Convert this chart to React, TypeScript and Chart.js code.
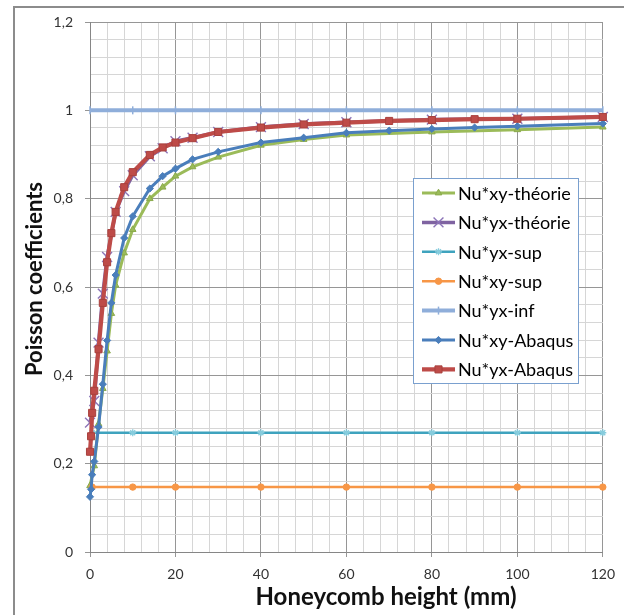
import React, { useEffect, useRef } from 'react';
import { Chart, registerables } from 'chart.js';

Chart.register(...registerables);

// ---- data ----
const xyTheoX = [0, 1, 2, 3, 4, 5, 6, 8, 10, 14, 17, 20, 24, 30, 40, 50, 60, 80, 100, 120];
const xyTheoY = [0.15, 0.195, 0.29, 0.37, 0.455, 0.54, 0.604, 0.677, 0.73, 0.8, 0.826, 0.851, 0.872, 0.894, 0.921, 0.934, 0.944, 0.951, 0.956, 0.962];

const yxTheoX = [0, 1, 2, 3, 4, 6, 8, 10, 14, 17, 20, 24, 30, 40, 50, 60, 80, 100, 120];
const yxTheoY = [0.293, 0.342, 0.474, 0.585, 0.668, 0.77, 0.817, 0.853, 0.896, 0.914, 0.93, 0.938, 0.951, 0.962, 0.969, 0.973, 0.979, 0.981, 0.985];

const supX = [0.5, 10, 20, 40, 60, 80, 100, 120];
const yxSupY = [0.27, 0.27, 0.27, 0.27, 0.27, 0.27, 0.27, 0.27];
const xySupY = [0.147, 0.147, 0.147, 0.147, 0.147, 0.147, 0.147, 0.147];

const infX = [0, 10, 20, 40, 60, 80, 100, 120];
const yxInfY = [1, 1, 1, 1, 1, 1, 1, 1];

const abaqusX = [0, 0.25, 0.5, 1, 2, 3, 4, 5, 6, 8, 10, 14, 17, 20, 24, 30, 40, 50, 60, 70, 80, 90, 100, 120];
const xyAbaqusY = [0.125, 0.142, 0.175, 0.205, 0.283, 0.38, 0.479, 0.564, 0.627, 0.711, 0.76, 0.823, 0.851, 0.868, 0.889, 0.906, 0.927, 0.938, 0.949, 0.954, 0.958, 0.961, 0.964, 0.97];
const yxAbaqusY = [0.227, 0.262, 0.315, 0.365, 0.459, 0.564, 0.656, 0.722, 0.77, 0.826, 0.86, 0.899, 0.916, 0.927, 0.937, 0.951, 0.961, 0.968, 0.972, 0.976, 0.978, 0.98, 0.981, 0.985];

const seriesLabels = [
  'Nu*xy-théorie',
  'Nu*yx-théorie',
  'Nu*yx-sup',
  'Nu*xy-sup',
  'Nu*yx-inf',
  'Nu*xy-Abaqus',
  'Nu*yx-Abaqus',
];

const xTitle = 'Honeycomb height (mm)';
const yTitle = 'Poisson coefficients';

const pts = (xs: number[], ys: number[]) => xs.map((x, i) => ({ x, y: ys[i] }));

const FONT = 'Lato, "Open Sans", sans-serif';

type Sty = {
  color: string;
  width: number;
  marker: string;
  r: number;
  mFill: string;
  mStroke: string;
  mWidth: number;
  rot?: number;
};

const styles: Sty[] = [
  { color: '#9BBB59', width: 3, marker: 'triangle', r: 3.8, mFill: '#9BBB59', mStroke: '#8AAA4C', mWidth: 1 },
  { color: '#7F63A1', width: 3.5, marker: 'crossRot', r: 7, mFill: '#8C74B8', mStroke: '#8C74B8', mWidth: 1.4 },
  { color: '#3FA3BE', width: 2.5, marker: 'star', r: 3.5, mFill: '#86CCDD', mStroke: '#86CCDD', mWidth: 1.3 },
  { color: '#F79646', width: 2.5, marker: 'circle', r: 3.2, mFill: '#F79646', mStroke: '#F79646', mWidth: 1 },
  { color: '#8FAEDA', width: 4, marker: 'line', r: 4, mFill: '#8FAEDA', mStroke: '#8FAEDA', mWidth: 1.5, rot: 90 },
  { color: '#4A7EBB', width: 3, marker: 'rectRot', r: 3.6, mFill: '#4A7EBB', mStroke: '#4A7EBB', mWidth: 1 },
  { color: '#BE4B48', width: 4.2, marker: 'rect', r: 5, mFill: '#BE4B48', mStroke: '#A8403D', mWidth: 1 },
];

function drawMarker(ctx: CanvasRenderingContext2D, s: Sty, x: number, y: number) {
  const r = s.r;
  ctx.save();
  ctx.fillStyle = s.mFill;
  ctx.strokeStyle = s.mStroke;
  ctx.lineWidth = s.mWidth;
  ctx.beginPath();
  switch (s.marker) {
    case 'triangle':
      ctx.moveTo(x, y - r);
      ctx.lineTo(x + r * 0.866, y + r * 0.5);
      ctx.lineTo(x - r * 0.866, y + r * 0.5);
      ctx.closePath();
      ctx.fill();
      ctx.stroke();
      break;
    case 'crossRot': {
      const d = r * Math.SQRT1_2;
      ctx.moveTo(x - d, y - d);
      ctx.lineTo(x + d, y + d);
      ctx.moveTo(x + d, y - d);
      ctx.lineTo(x - d, y + d);
      ctx.stroke();
      break;
    }
    case 'star': {
      const d = r * Math.SQRT1_2;
      ctx.moveTo(x - d, y - d);
      ctx.lineTo(x + d, y + d);
      ctx.moveTo(x + d, y - d);
      ctx.lineTo(x - d, y + d);
      ctx.moveTo(x, y - r);
      ctx.lineTo(x, y + r);
      ctx.moveTo(x - r, y);
      ctx.lineTo(x + r, y);
      ctx.stroke();
      break;
    }
    case 'circle':
      ctx.arc(x, y, r, 0, Math.PI * 2);
      ctx.fill();
      ctx.stroke();
      break;
    case 'line':
      ctx.moveTo(x, y - r);
      ctx.lineTo(x, y + r);
      ctx.stroke();
      break;
    case 'rectRot':
      ctx.moveTo(x, y - r);
      ctx.lineTo(x + r, y);
      ctx.lineTo(x, y + r);
      ctx.lineTo(x - r, y);
      ctx.closePath();
      ctx.fill();
      ctx.stroke();
      break;
    case 'rect': {
      const d = r * Math.SQRT1_2;
      ctx.rect(x - d, y - d, 2 * d, 2 * d);
      ctx.fill();
      ctx.stroke();
      break;
    }
  }
  ctx.restore();
}

const decor = {
  id: 'decor',
  beforeDraw(chart: any) {
    const ctx = chart.ctx as CanvasRenderingContext2D;
    ctx.save();
    ctx.fillStyle = '#ffffff';
    ctx.fillRect(0, 0, chart.width, chart.height);
    ctx.restore();
  },
  afterDraw(chart: any) {
    const ctx = chart.ctx as CanvasRenderingContext2D;
    const area = chart.chartArea;
    ctx.save();
    // outer border
    ctx.strokeStyle = '#8C8C8C';
    ctx.lineWidth = 2;
    ctx.strokeRect(14, 7, 700, 700);

    // axis titles
    ctx.fillStyle = '#111111';
    ctx.textAlign = 'center';
    ctx.textBaseline = 'alphabetic';
    ctx.font = `bold 24px ${FONT}`;
    ctx.fillText(xTitle, 386, 605);
    ctx.save();
    ctx.font = `bold 22px ${FONT}`;
    ctx.translate(42, (area.top + area.bottom) / 2 - 8);
    ctx.rotate(-Math.PI / 2);
    ctx.fillText(yTitle, 0, 0);
    ctx.restore();

    // legend
    const lx = 413.5, ly = 178.5, lw = 165, lh = 205;
    ctx.fillStyle = '#ffffff';
    ctx.fillRect(lx, ly, lw, lh);
    ctx.strokeStyle = '#7AA0CF';
    ctx.lineWidth = 1;
    ctx.strokeRect(lx, ly, lw, lh);
    ctx.font = `18px ${FONT}`;
    ctx.textAlign = 'left';
    ctx.textBaseline = 'middle';
    seriesLabels.forEach((lab, i) => {
      const s = styles[i];
      const cy = 193 + i * 29.4;
      ctx.strokeStyle = s.color;
      ctx.lineWidth = s.width;
      ctx.beginPath();
      ctx.moveTo(422, cy);
      ctx.lineTo(455, cy);
      ctx.stroke();
      drawMarker(ctx, s, 438.5, cy);
      ctx.fillStyle = '#000000';
      ctx.fillText(lab, 458, cy + 1);
    });
    ctx.restore();
  },
};

const isMajor = (v: number, step: number) => Math.abs(v / step - Math.round(v / step)) < 1e-6;

export default function App() {
  const ref = useRef<HTMLCanvasElement | null>(null);
  useEffect(() => {
    const canvas = ref.current;
    if (!canvas) return;
    const series = [
      pts(xyTheoX, xyTheoY),
      pts(yxTheoX, yxTheoY),
      pts(supX, yxSupY),
      pts(supX, xySupY),
      pts(infX, yxInfY),
      pts(abaqusX, xyAbaqusY),
      pts(abaqusX, yxAbaqusY),
    ];
    const datasets = series.map((data, i) => {
      const s = styles[i];
      return {
        label: seriesLabels[i],
        data,
        borderColor: s.color,
        backgroundColor: s.color,
        borderWidth: s.width,
        pointStyle: s.marker,
        pointRadius: s.r,
        pointHoverRadius: s.r,
        pointBackgroundColor: s.mFill,
        pointBorderColor: s.mStroke,
        pointBorderWidth: s.mWidth,
        pointRotation: s.rot || 0,
        tension: 0,
        clip: false as any,
        order: 6 - i,
      };
    });
    const chart = new Chart(canvas, {
      type: 'line',
      data: { datasets: datasets as any },
      plugins: [decor],
      options: {
        responsive: false,
        animation: false,
        events: [],
        layout: { padding: { left: 0, right: 18, top: 22, bottom: 0 } },
        plugins: {
          legend: { display: false },
          tooltip: { enabled: false },
          title: { display: false },
        },
        scales: {
          x: {
            type: 'linear',
            min: 0,
            max: 120,
            afterFit: (s: any) => {
              s.height = 63;
            },
            ticks: {
              stepSize: 4,
              autoSkip: false,
              maxRotation: 0,
              minRotation: 0,
              padding: 9,
              color: '#333333',
              font: { family: FONT, size: 14 },
              callback: (v: any) => (isMajor(Number(v), 20) ? String(Math.round(Number(v))) : ''),
            },
            grid: {
              color: (c: any) => (isMajor(c.tick.value, 20) ? '#969696' : '#D6D6D6'),
              tickColor: (c: any) => (isMajor(c.tick.value, 20) ? '#969696' : 'rgba(0,0,0,0)'),
              tickLength: 5,
              lineWidth: 1,
            },
            border: { color: '#868686', width: 1 },
          },
          y: {
            type: 'linear',
            min: 0,
            max: 1.2,
            afterFit: (s: any) => {
              s.width = 90;
            },
            ticks: {
              stepSize: 0.04,
              autoSkip: false,
              padding: 12,
              color: '#333333',
              font: { family: FONT, size: 14 },
              callback: (v: any) => {
                const n = Number(v);
                if (!isMajor(n, 0.2)) return '';
                return String(Math.round(n * 10) / 10).replace('.', ',');
              },
            },
            grid: {
              color: (c: any) => (isMajor(c.tick.value, 0.2) ? '#969696' : '#D6D6D6'),
              tickColor: (c: any) => (isMajor(c.tick.value, 0.2) ? '#969696' : 'rgba(0,0,0,0)'),
              tickLength: 5,
              lineWidth: 1,
            },
            border: { color: '#868686', width: 1 },
          },
        },
      },
    });
    return () => chart.destroy();
  }, []);
  return (
    <div style={{ position: 'fixed', left: 0, top: 0, width: 624, height: 615, background: '#fff' }}>
      <canvas ref={ref} width={624} height={615} style={{ display: 'block' }} />
    </div>
  );
}
